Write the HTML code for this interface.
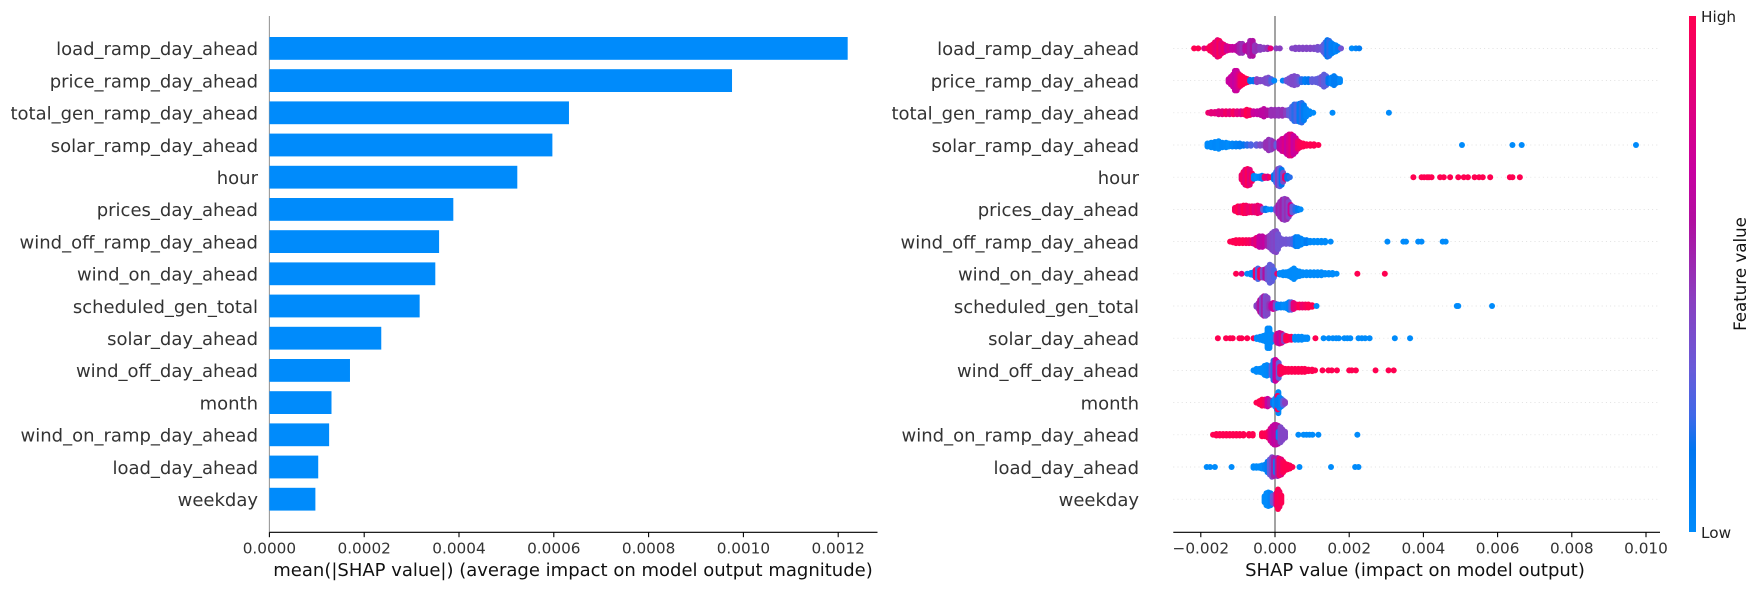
<!DOCTYPE html>
<html lang="en">
<head>
<meta charset="utf-8">
<title>SHAP summary plots</title>
<style>
html,body{margin:0;padding:0;background:#fff;}
svg{display:block;font-family:"DejaVu Sans","Liberation Sans",sans-serif;}
</style>
</head>
<body>
<svg id="chart" xmlns="http://www.w3.org/2000/svg" width="1760" height="590" viewBox="0 0 1760 590">
<defs>
<linearGradient id="cbar" x1="0" y1="1" x2="0" y2="0">
<stop offset="0" stop-color="#008bfb"/><stop offset="0.16" stop-color="#0075f0"/><stop offset="0.225" stop-color="#3f68e8"/><stop offset="0.32" stop-color="#6a5ad8"/><stop offset="0.45" stop-color="#8a3fc0"/><stop offset="0.6" stop-color="#b00fa0"/><stop offset="0.7" stop-color="#c800a0"/><stop offset="1" stop-color="#ff0051"/>
</linearGradient>
</defs>
<rect x="1689" y="16" width="7" height="516" fill="url(#cbar)"/>
<text x="1701" y="22" font-size="15.28" fill="#222">High</text>
<text x="1701" y="538" font-size="15.28" fill="#222">Low</text>
<text transform="translate(1746,274) rotate(-90)" text-anchor="middle" font-size="16.67" fill="#111">Feature value</text>
</svg>
<script>
// Shared categories (top to bottom)
const features = ["load_ramp_day_ahead","price_ramp_day_ahead","total_gen_ramp_day_ahead","solar_ramp_day_ahead","hour","prices_day_ahead","wind_off_ramp_day_ahead","wind_on_day_ahead","scheduled_gen_total","solar_day_ahead","wind_off_day_ahead","month","wind_on_ramp_day_ahead","load_day_ahead","weekday"];

// Bar panel: mean(|SHAP value|)
const meanShap = [0.00122,0.000976,0.000632,0.000597,0.000523,0.000388,0.000358,0.00035,0.000317,0.000236,0.00017,0.000131,0.000126,0.000103,0.000097];
const barTicks = [0,0.0002,0.0004,0.0006,0.0008,0.001,0.0012];
const barTickLabels = ["0.0000","0.0002","0.0004","0.0006","0.0008","0.0010","0.0012"];

// Beeswarm panel ticks
const swarmTicks = [-0.002,0,0.002,0.004,0.006,0.008,0.01];
const swarmTickLabels = ["\u22120.002","0.000","0.002","0.004","0.006","0.008","0.010"];

// Beeswarm clusters: [SHAP value in 1e-3 units, normalised feature value 0..1, sample count]
const swarmLoadRamp = [[-2.18,1,1],[-2.07,1,1],[-1.91,.85,1],[-1.82,.95,1],[-1.75,.98,4],[-1.68,.95,6],[-1.62,.9,9],[-1.55,.85,12],[-1.5,.97,11],[-1.45,.85,8],[-1.38,.9,6],[-1.3,.75,4],[-1.22,.8,3],[-1.15,.7,3],[-1.07,.68,3],[-1,.62,5],[-.95,.55,7],[-.88,.5,7],[-.8,.65,4],[-.72,.6,6],[-.67,.55,11],[-.6,.6,11],[-.54,.48,5],[-.47,.5,3],[-.4,.45,3],[-.3,.45,2],[-.2,.5,2],[-.12,.85,1],[.03,.45,1],[.13,.45,1],[.46,.42,1],[.55,.42,2],[.65,.42,2],[.75,.42,2],[.85,.42,2],[.95,.42,2],[1.05,.4,2],[1.15,.38,3],[1.25,.36,3],[1.31,.3,6],[1.36,.25,9],[1.41,.15,12],[1.46,.2,11],[1.52,.08,8],[1.58,.1,6],[1.64,.05,5],[1.7,.1,3],[1.78,.35,1],[2.07,0,1],[2.18,.05,1],[2.27,.1,1]];
const swarmPriceRamp = [[-1.25,.7,3],[-1.19,.7,6],[-1.13,.72,9],[-1.08,.68,14],[-1.03,.72,14],[-.98,.8,10],[-.93,.95,8],[-.87,1,6],[-.8,1,4],[-.74,1,3],[-.67,.15,2],[-.58,.15,2],[-.49,.45,3],[-.4,.42,2],[-.32,.4,2],[-.25,.4,4],[-.18,.38,5],[-.1,.25,3],[-.02,0,1],[.21,.05,1],[.31,.35,2],[.38,.38,4],[.45,.4,6],[.52,.4,7],[.6,.38,6],[.66,.3,3],[.72,.2,3],[.81,.1,3],[.9,.15,3],[1,.3,3],[1.1,.3,3],[1.17,.3,4],[1.25,.35,6],[1.32,.3,9],[1.38,.28,7],[1.44,.15,4],[1.52,.05,5],[1.59,.1,7],[1.66,.1,4],[1.75,.02,3]];
const swarmTotalGenRamp = [[-1.8,.9,1],[-1.72,.85,2],[-1.62,.85,2],[-1.52,.82,3],[-1.42,.85,3],[-1.32,.92,3],[-1.22,.85,3],[-1.12,.95,3],[-1.02,.85,3],[-.92,.8,3],[-.84,.9,3],[-.76,1,5],[-.68,.95,4],[-.58,.72,3],[-.48,.68,3],[-.38,.65,4],[-.3,.65,6],[-.2,.6,4],[-.1,.5,5],[0,.5,5],[.1,.48,5],[.2,.5,5],[.3,.45,4],[.38,.3,5],[.46,.25,9],[.52,.2,12],[.58,.25,12],[.66,.12,13],[.72,.2,14],[.78,.1,11],[.84,.05,6],[.93,.03,3],[1.03,0,1],[1.55,0,1],[3.07,0,1]];
const swarmSolarRamp = [[-1.82,0,3],[-1.72,0,4],[-1.62,.02,5],[-1.52,0,6],[-1.42,.03,4],[-1.32,.02,4],[-1.25,0,3],[-1.15,.05,3],[-1.05,.08,3],[-.95,.1,3],[-.85,.15,2],[-.75,.2,2],[-.65,.25,2],[-.5,.3,2],[-.4,.38,2],[-.3,.42,2],[-.24,.5,5],[-.17,.5,8],[-.1,.45,7],[-.04,.5,5],[.04,.3,3],[.12,.65,6],[.19,.72,9],[.26,.8,10],[.32,.7,13],[.38,.78,15],[.44,.85,15],[.5,.7,13],[.56,.75,10],[.62,.9,6],[.68,.95,4],[.76,1,3],[.85,1,2],[.95,1,2],[1.05,1,2],[1.17,1,1],[5.04,0,1],[6.4,0,1],[6.65,0,1],[9.73,0,1]];
const swarmHour = [[-.9,.9,4],[-.85,.95,8],[-.8,.85,11],[-.74,.98,12],[-.68,.85,11],[-.62,.95,6],[-.57,.05,3],[-.5,0,2],[-.42,.05,2],[-.35,.1,3],[-.28,.9,2],[-.2,.8,2],[-.13,.95,1],[-.03,.15,4],[.03,.25,8],[.08,.45,12],[.13,.3,13],[.18,.15,11],[.22,.4,7],[.27,.9,3],[.33,.15,3],[.4,.2,1],[3.73,1,1],[3.95,1,1],[4.02,1,1],[4.1,1,1],[4.15,1,1],[4.22,1,1],[4.45,1,1],[4.55,1,1],[4.72,1,1],[4.94,1,1],[5.09,1,1],[5.2,1,1],[5.38,1,1],[5.5,1,1],[5.6,1,1],[5.8,1,1],[6.33,1,1],[6.4,1,1],[6.6,1,1]];
const swarmPrices = [[-1.08,.95,3],[-1.0,1,5],[-.93,.9,5],[-.85,1,6],[-.78,.95,6],[-.7,.9,5],[-.62,.95,5],[-.55,.85,5],[-.47,.9,6],[-.4,.85,5],[-.32,.3,2],[-.25,.15,2],[-.18,0,1],[-.1,0,1],[.03,.4,3],[.09,.55,7],[.14,.5,11],[.2,.55,14],[.26,.45,15],[.32,.5,14],[.37,.42,11],[.42,.75,7],[.47,.3,5],[.55,.2,3],[.62,.1,2],[.69,0,1]];
const swarmWindOffRamp = [[-1.21,1,1],[-1.13,1,2],[-1.05,1,3],[-.96,1,3],[-.87,1,3],[-.78,.98,3],[-.7,.95,3],[-.62,.9,3],[-.56,.8,4],[-.5,.85,6],[-.42,.7,8],[-.34,.65,8],[-.26,.7,6],[-.2,.55,7],[-.14,.45,9],[-.08,.42,12],[-.03,.4,14],[.03,.42,15],[.08,.35,11],[.13,.35,6],[.2,.35,4],[.3,.35,4],[.4,.33,4],[.49,.25,5],[.56,.1,7],[.62,.05,7],[.7,.05,5],[.78,.02,3],[.85,.1,3],[.95,.02,2],[1.05,0,2],[1.15,0,2],[1.25,0,2],[1.35,0,2],[1.5,0,1],[3.03,0,1],[3.46,0,1],[3.53,0,1],[3.86,0,1],[3.95,0,1],[4.52,0,1],[4.6,0,1]];
const swarmWindOn = [[-1.05,1,1],[-.9,.85,1],[-.75,0,1],[-.65,0,2],[-.58,.05,3],[-.52,.9,6],[-.46,.25,8],[-.4,.95,6],[-.33,.4,6],[-.26,.6,7],[-.2,.35,9],[-.14,.3,13],[-.08,.3,11],[-.03,.25,6],[.06,.9,1],[.13,0,2],[.22,0,3],[.3,0,3],[.38,0,4],[.45,0,6],[.51,0,8],[.58,0,5],[.66,0,4],[.75,0,3],[.85,0,3],[.95,0,3],[1.05,0,3],[1.15,0,3],[1.25,0,3],[1.35,0,2],[1.45,0,2],[1.55,0,2],[1.66,0,1],[2.22,1,1],[2.96,1,1]];
const swarmScheduled = [[-.5,.42,2],[-.44,.5,5],[-.4,.6,9],[-.35,.42,12],[-.3,.55,14],[-.25,.38,14],[-.2,.42,12],[-.15,.5,4],[-.1,.7,3],[-.05,.75,5],[.02,.4,4],[.08,.05,3],[.16,.05,3],[.24,0,3],[.32,.02,4],[.38,.05,6],[.44,.3,6],[.5,.85,5],[.58,.9,3],[.66,1,3],[.74,.9,3],[.82,.95,3],[.9,1,3],[1,1,2],[1.12,0,1],[4.9,0,1],[4.94,0,1],[5.85,0,1]];
const swarmSolar = [[-1.54,1,1],[-1.32,1,1],[-1.21,1,1],[-1.14,1,1],[-.96,1,1],[-.9,1,1],[-.75,1,1],[-.58,1,1],[-.49,0,2],[-.4,0,3],[-.32,0,4],[-.26,0,5],[-.2,0,14],[-.15,0,14],[-.09,0,6],[.02,.42,4],[.06,.8,7],[.12,.65,8],[.18,.8,7],[.24,.45,5],[.3,1,4],[.36,1,3],[.44,.95,3],[.54,0,3],[.63,0,3],[.72,0,3],[.81,0,2],[.87,0,2],[1.09,1,1],[1.31,0,1],[1.45,0,1],[1.56,0,1],[1.65,0,1],[1.72,0,1],[1.87,0,1],[1.95,0,1],[2.03,0,1],[2.25,0,1],[2.34,0,1],[2.43,0,1],[2.55,0,1],[3.23,0,1],[3.64,0,1]];
const swarmWindOff = [[-.58,0,1],[-.5,0,3],[-.42,0,3],[-.35,0,4],[-.28,0,7],[-.22,.02,8],[-.15,.05,5],[-.09,.3,8],[-.04,.2,14],[.01,.7,15],[.05,.75,13],[.1,.3,11],[.14,.9,6],[.2,1,4],[.28,1,3],[.36,1,3],[.45,1,3],[.54,1,3],[.63,1,3],[.72,1,3],[.8,1,3],[.9,1,2],[1,1,2],[1.08,1,1],[1.28,1,1],[1.44,1,1],[1.53,1,1],[1.67,1,1],[2.0,1,1],[2.07,1,1],[2.18,1,1],[2.71,1,1],[3.06,1,1],[3.2,1,1]];
const swarmMonth = [[-.5,1,1],[-.42,1,3],[-.35,1,5],[-.27,.95,5],[-.2,.7,6],[-.13,.55,4],[-.05,.1,3],[0,0,6],[.05,.02,10],[.09,0,15],[.07,.95,10],[.12,.02,8],[.07,.1,5],[.17,.05,6],[.22,.3,4],[.27,.45,2]];
const swarmWindOnRamp = [[-1.67,1,1],[-1.58,1,2],[-1.49,1,2],[-1.4,1,2],[-1.31,1,2],[-1.22,1,2],[-1.13,1,2],[-1.04,1,2],[-.95,1,2],[-.85,1,2],[-.7,1,2],[-.6,1,2],[-.35,1,3],[-.27,1,3],[-.18,.95,5],[-.12,.8,9],[-.07,.72,12],[-.02,.65,14],[.03,.7,14],[.08,.6,13],[.1,.05,5],[.15,.4,11],[.2,.42,8],[.27,.42,5],[.63,0,1],[.77,0,1],[.85,0,1],[.93,0,1],[1.01,0,1],[1.17,0,1],[2.22,0,1]];
const swarmLoadDay = [[-1.84,0,1],[-1.75,0,1],[-1.62,0,1],[-1.17,0,1],[-.58,0,2],[-.5,0,2],[-.42,0,2],[-.35,0,3],[-.27,.05,4],[-.2,.1,8],[-.14,.3,11],[-.08,.4,14],[-.03,.55,13],[.03,.05,9],[.07,.55,13],[.12,.95,12],[.17,.85,11],[.22,.98,8],[.28,1,5],[.34,1,4],[.4,1,3],[.47,1,1],[.66,0,1],[1.51,0,1],[2.16,0,1],[2.25,0,1]];
const swarmWeekday = [[-.28,0,5],[-.23,0,9],[-.18,0,10],[-.12,.05,9],[-.06,.3,6],[0,.38,7],[.04,.85,9],[.08,1,14],[.12,.95,11],[.17,1,6]];
const swarmSeries = [swarmLoadRamp,swarmPriceRamp,swarmTotalGenRamp,swarmSolarRamp,swarmHour,swarmPrices,swarmWindOffRamp,swarmWindOn,swarmScheduled,swarmSolar,swarmWindOff,swarmMonth,swarmWindOnRamp,swarmLoadDay,swarmWeekday];

const NS = "http://www.w3.org/2000/svg";
const svg = document.getElementById("chart");
const AXIS_Y = 532.3, TOP_Y = 16;
const rowY = i => 48.4 + i * 32.2;
const barX = v => 269.4 + v * 474000;
const swarmX = v => 1275 + v * 37100;
const SWARM_UNIT = 0.001;

const stops = [[0,[0,139,251]],[.16,[0,117,240]],[.225,[63,104,232]],[.32,[106,90,216]],[.45,[138,63,192]],[.6,[176,15,160]],[.7,[200,0,160]],[1,[255,0,81]]];
function colorFor(t){
  for(let i=1;i<stops.length;i++){
    if(t<=stops[i][0]){
      const a=stops[i-1],b=stops[i],f=(t-a[0])/(b[0]-a[0]);
      return "rgb("+a[1].map((c,k)=>Math.round(c+(b[1][k]-c)*f)).join(",")+")";
    }
  }
  return "rgb(255,0,81)";
}
function add(tag, attrs, parent, text){
  const e=document.createElementNS(NS,tag);
  for(const k in attrs) e.setAttribute(k,attrs[k]);
  if(text!==undefined) e.textContent=text;
  (parent||svg).appendChild(e);
  return e;
}

// ---- Bar panel ----
const barPanel = add("g",{});


const barSpine = add("line",{x1:barX(0),x2:barX(0),y1:TOP_Y,y2:AXIS_Y,stroke:"#999999","stroke-width":1.1},barPanel);


features.forEach((f,i)=>{
  const bar = add("rect",{x:barX(0),y:rowY(i)-11.4,width:barX(meanShap[i])-barX(0),height:22.8,fill:"#008bfb"},barPanel);
  
  
  const label = add("text",{x:258,y:rowY(i)+6.8,"text-anchor":"end","font-size":18,fill:"#333333"},barPanel,f);
  
  
});
const barAxis = add("line",{x1:barX(0),x2:877.5,y1:AXIS_Y,y2:AXIS_Y,stroke:"#000","stroke-width":1.1},barPanel);


barTicks.forEach((t,i)=>{
  const tick = add("line",{x1:barX(t),x2:barX(t),y1:AXIS_Y,y2:AXIS_Y+4.9,stroke:"#000","stroke-width":1.1},barPanel);
  
  
  const lab = add("text",{x:barX(t),y:553.3,"text-anchor":"middle","font-size":15.28,fill:"#333333"},barPanel,barTickLabels[i]);
  
  
});
const barTitle = add("text",{x:573,y:576,"text-anchor":"middle","font-size":18,fill:"#111"},barPanel,"mean(|SHAP value|) (average impact on model output magnitude)");



// ---- Beeswarm panel ----
const swarmPanel = add("g",{});


features.forEach((f,i)=>{
  const guide = add("line",{x1:1173.3,x2:1660,y1:rowY(i),y2:rowY(i),stroke:"#d8d8d8","stroke-width":0.7,"stroke-dasharray":"1 3.2"},swarmPanel);
  
  
  const label = add("text",{x:1139,y:rowY(i)+6.8,"text-anchor":"end","font-size":18,fill:"#333333"},swarmPanel,f);
  
  
});
const zeroLine = add("line",{x1:swarmX(0),x2:swarmX(0),y1:TOP_Y,y2:AXIS_Y,stroke:"#999999","stroke-width":1.8},swarmPanel);


const LAYER_PX = 0.75;
swarmSeries.forEach((series,i)=>{
  const g = add("g",{},swarmPanel);
  
  
  series.forEach(p=>{
    const cx = swarmX(p[0]*SWARM_UNIT), fill = colorFor(p[1]), n = p[2];
    for(let k=n-1;k>=0;k--){
      const off = n===1 ? 0 : (k - (n-1)/2) * 2 * LAYER_PX;
      const dot = add("circle",{cx:cx,cy:rowY(i)+off,r:3,fill:fill},g);
      
      
    }
  });
});
const swarmAxis = add("line",{x1:1173.3,x2:1660,y1:AXIS_Y,y2:AXIS_Y,stroke:"#000","stroke-width":1.1},swarmPanel);


swarmTicks.forEach((t,i)=>{
  const tick = add("line",{x1:swarmX(t),x2:swarmX(t),y1:AXIS_Y,y2:AXIS_Y+4.9,stroke:"#000","stroke-width":1.1},swarmPanel);
  
  
  const lab = add("text",{x:swarmX(t),y:553.3,"text-anchor":"middle","font-size":15.28,fill:"#333333"},swarmPanel,swarmTickLabels[i]);
  
  
});
const swarmTitle = add("text",{x:1415,y:576,"text-anchor":"middle","font-size":18,fill:"#111"},swarmPanel,"SHAP value (impact on model output)");


</script>
</body>
</html>
